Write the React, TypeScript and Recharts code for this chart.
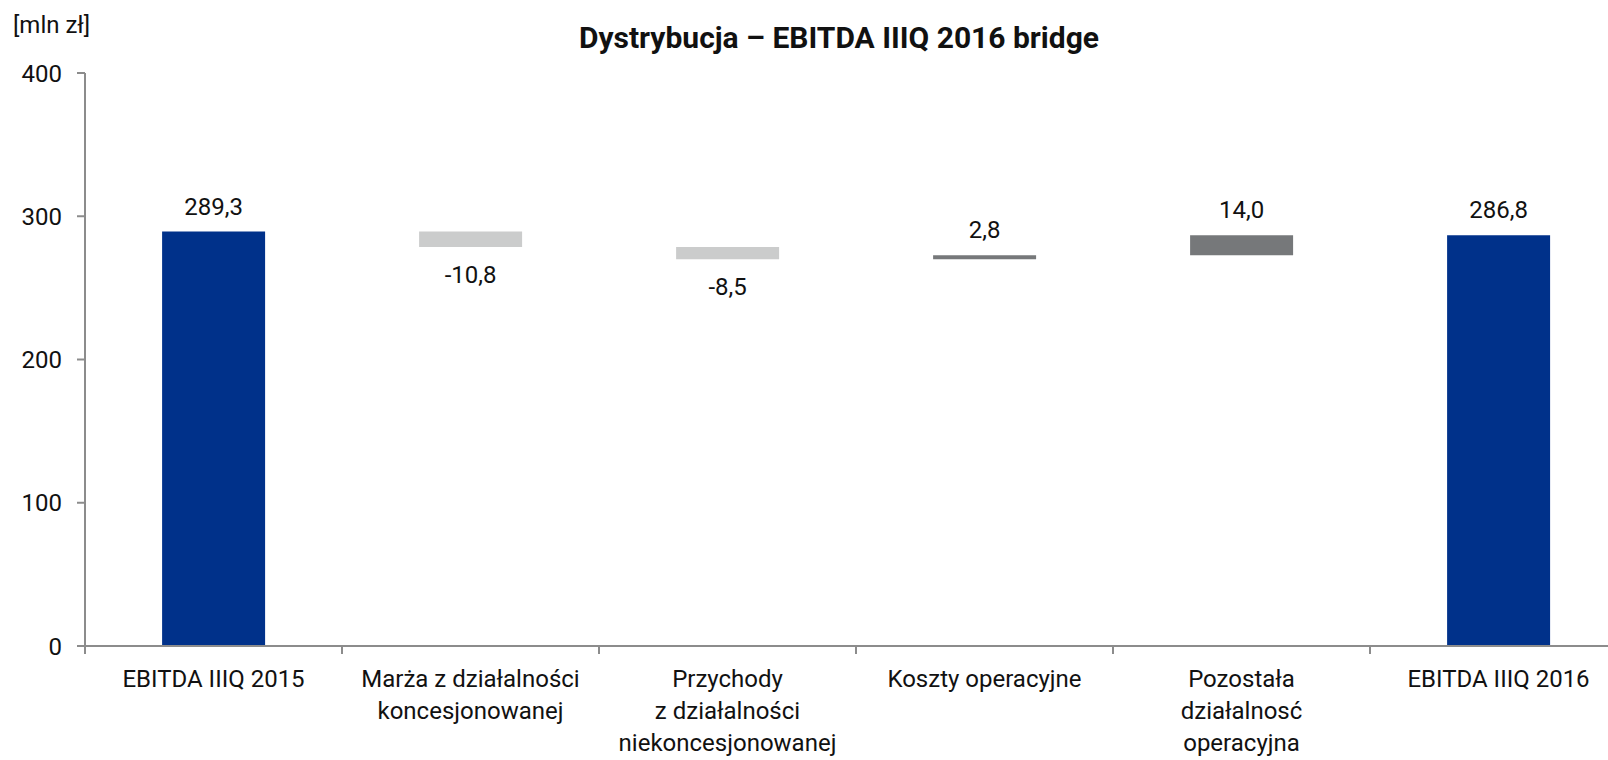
import React from 'react';
import { BarChart, Bar, XAxis, YAxis, Cell, LabelList } from 'recharts';

// Bridge steps (mln zł)
const categories = [
  ['EBITDA IIIQ 2015'],
  ['Marża z działalności', 'koncesjonowanej'],
  ['Przychody', 'z działalności', 'niekoncesjonowanej'],
  ['Koszty operacyjne'],
  ['Pozostała', 'działalnosć', 'operacyjna'],
  ['EBITDA IIIQ 2016'],
];
const values = [289.3, -10.8, -8.5, 2.8, 14.0, 286.8];
const isTotal = [true, false, false, false, false, true];
const yTicks = [0, 100, 200, 300, 400];

const BLUE = '#00318A';
const NEG = '#CBCCCC';
const POS = '#76787A';
const AXIS = '#8C8C8C';
const FONT = 'Roboto, sans-serif';
const FS = 24;

// build floating ranges from the running total
let running = 0;
const chartData = values.map((v, i) => {
  let range: [number, number];
  if (isTotal[i]) {
    range = [0, v];
    running = v;
  } else {
    const start = running;
    running = start + v;
    range = [Math.min(start, running), Math.max(start, running)];
  }
  return {
    name: categories[i].join(' '),
    range,
    value: v,
  };
});

const fmt = (v: number) => v.toFixed(1).replace('.', ',');

const CategoryTick = (props: any) => {
  const { x, y, payload, index } = props;
  const lines = categories[index] || [payload.value];
  const half = 257 / 2;
  return (
    <g>
      <line x1={x - half} x2={x - half} y1={y - 8} y2={y} stroke={AXIS} strokeWidth={2} />
      {index === categories.length - 1 && (
        <line x1={x + half} x2={x + half} y1={y - 8} y2={y} stroke={AXIS} strokeWidth={2} />
      )}
      <text x={x} y={y + 33} textAnchor="middle" fontFamily={FONT} fontSize={FS} fill="#111">
        {lines.map((l: string, i: number) => (
          <tspan key={i} x={x} dy={i === 0 ? 0 : 32}>{l}</tspan>
        ))}
      </text>
    </g>
  );
};

const ValueLabel = (props: any) => {
  const { x, y, width, height, index } = props;
  const v = values[index];
  const top = Math.min(y, y + height);
  const bottom = Math.max(y, y + height);
  const ly = v < 0 ? bottom + 28 : top - 25;
  return (
    <text x={x + width / 2} y={ly} textAnchor="middle" dominantBaseline="central"
      fontFamily={FONT} fontSize={FS} fill="#111">
      {fmt(v)}
    </text>
  );
};

export default function App() {
  return (
    <div style={{ position: 'absolute', left: 0, top: 0, width: 1608, height: 760, overflow: 'hidden', background: '#fff' }}>
      <div style={{ position: 'absolute', left: 13, top: 11, fontFamily: FONT, fontSize: FS, color: '#111' }}>
        [mln zł]
      </div>
      <div style={{ position: 'absolute', left: 0, width: 1678, top: 20, textAlign: 'center', fontFamily: FONT, fontSize: 30, fontWeight: 700, color: '#111' }}>
        Dystrybucja – EBITDA IIIQ 2016 bridge
      </div>
      <div style={{ position: 'absolute', left: 0, top: 0 }}>
        <BarChart width={1640} height={760} data={chartData}
          margin={{ top: 73, right: 13, left: 0, bottom: 0 }} barCategoryGap="30%">
          <XAxis dataKey="name" interval={0} tickLine={false} height={114}
            axisLine={{ stroke: AXIS, strokeWidth: 2 }} tick={<CategoryTick />} />
          <YAxis domain={[0, 400]} ticks={yTicks} width={85} tickSize={8} tickMargin={15}
            axisLine={{ stroke: AXIS, strokeWidth: 2 }} tickLine={{ stroke: AXIS, strokeWidth: 2 }}
            tick={{ fontFamily: FONT, fontSize: FS, fill: '#111' }} />
          <Bar dataKey="range" isAnimationActive={false}>
            {chartData.map((d, i) => (
              <Cell key={i} fill={isTotal[i] ? BLUE : d.value < 0 ? NEG : POS} />
            ))}
            <LabelList dataKey="value" content={<ValueLabel />} />
          </Bar>
        </BarChart>
      </div>
    </div>
  );
}
